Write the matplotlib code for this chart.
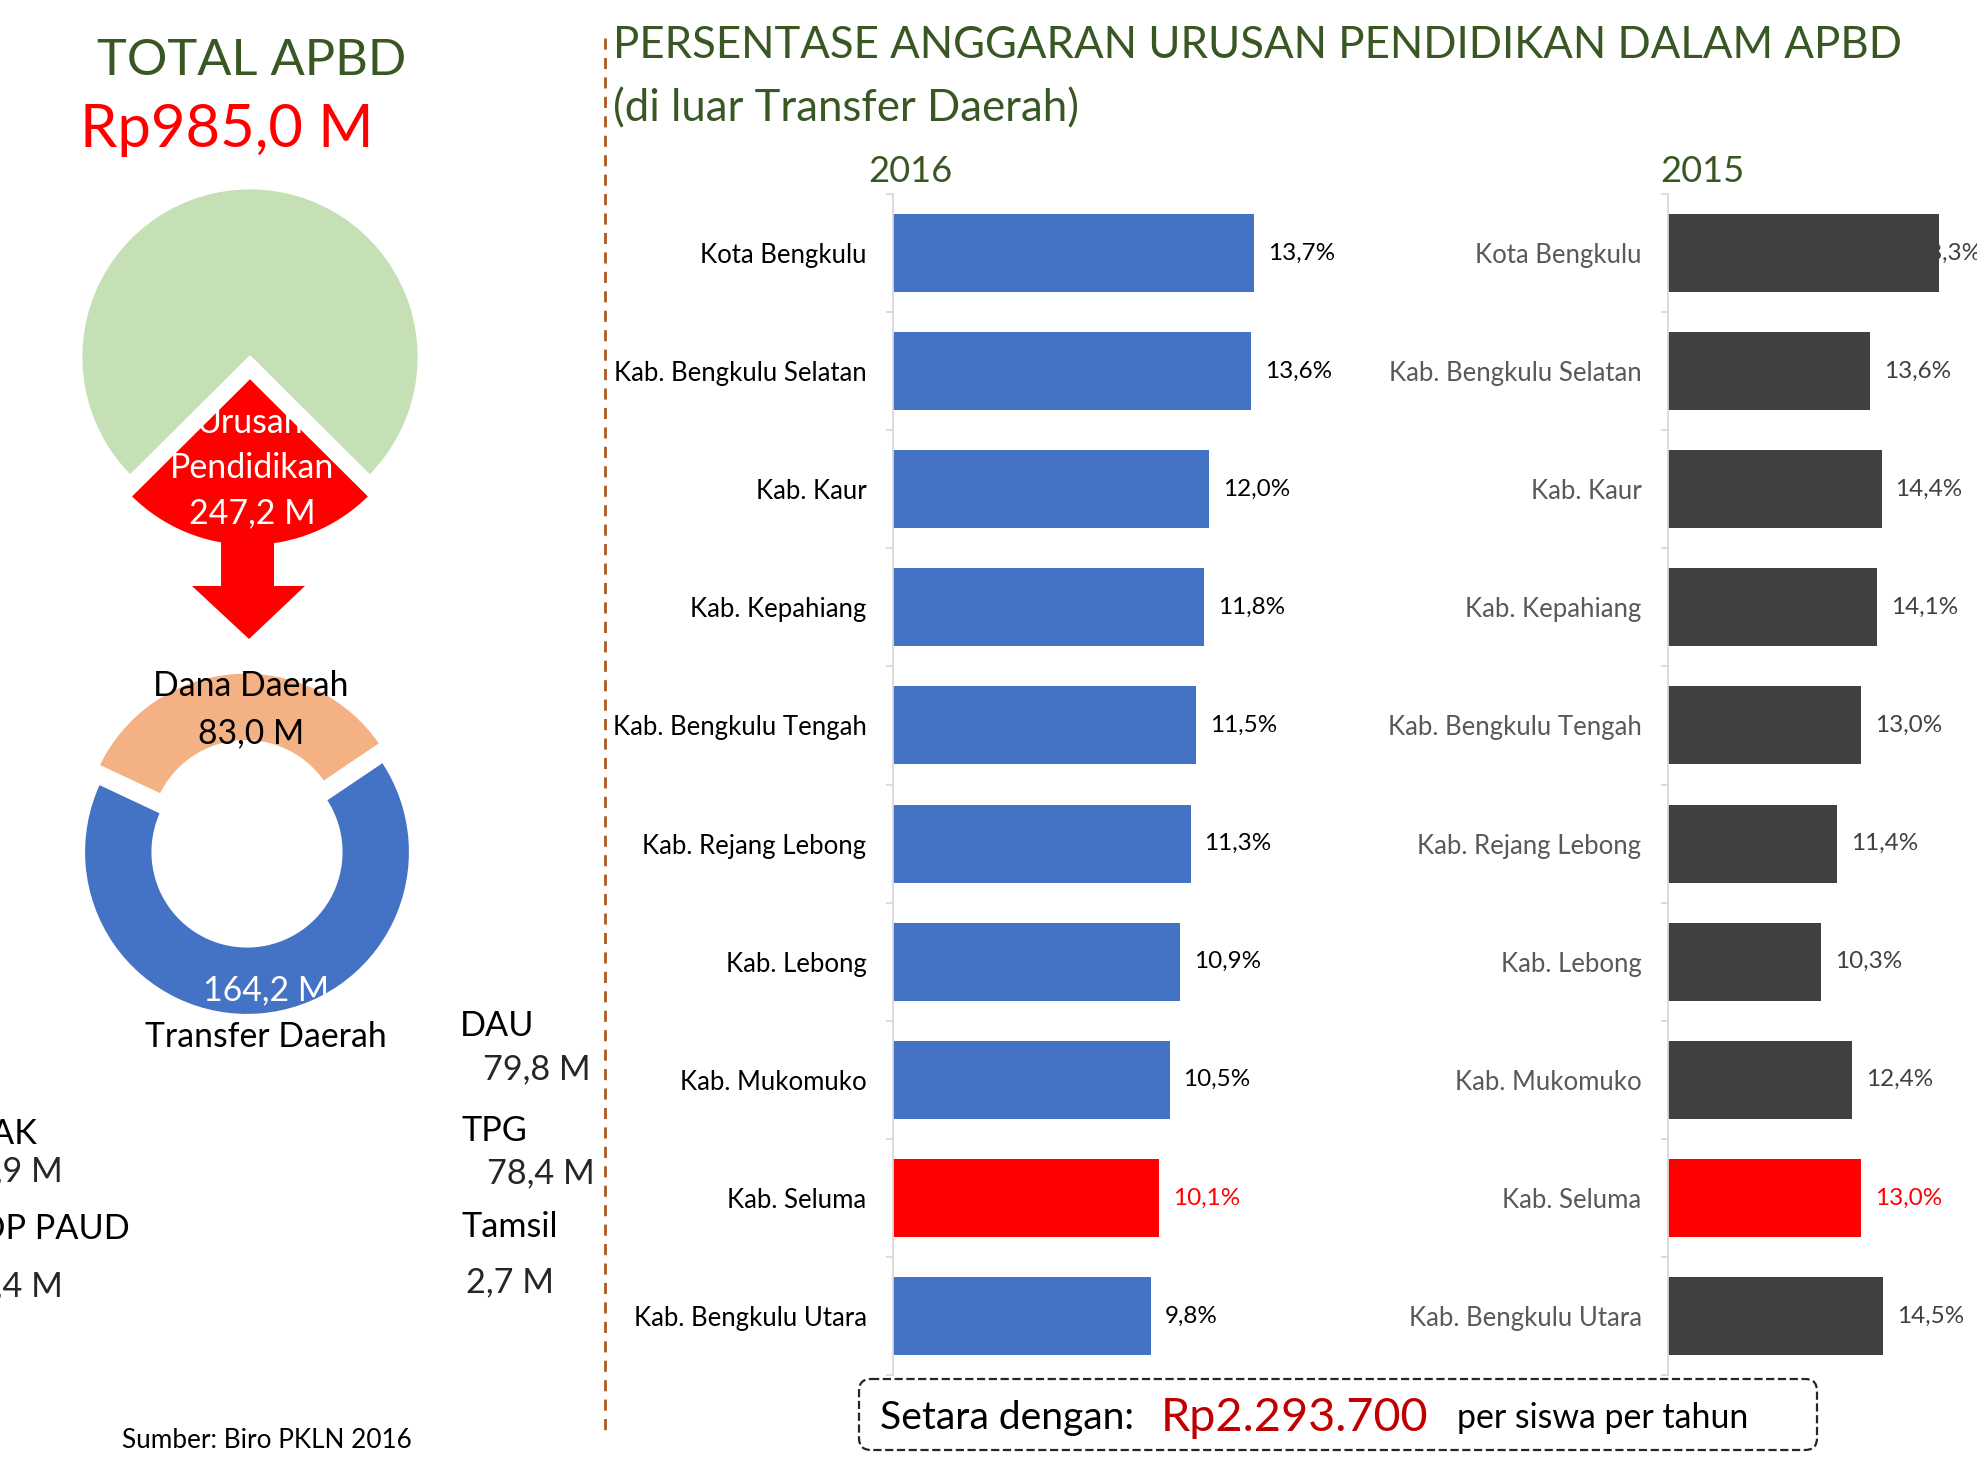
import numpy as np
import matplotlib.pyplot as plt
from matplotlib.patches import Polygon, FancyBboxPatch

plt.rcParams['font.family'] = ['Lato', 'DejaVu Sans']

W, H = 1977, 1462

# ---- data ----
total_apbd = 985.0
urusan_pendidikan = 247.2
dana_daerah = 83.0
transfer_daerah = 164.2
transfer_names = ['DAU', 'TPG', 'Tamsil']
transfer_vals = [79.8, 78.4, 2.7]
dana_names = ['DAK', 'BOP PAUD']      # left part is cut off in the source
dana_vals = [3.9, 1.4]
per_siswa = 'Rp2.293.700'

regions = ['Kota Bengkulu', 'Kab. Bengkulu Selatan', 'Kab. Kaur', 'Kab. Kepahiang',
           'Kab. Bengkulu Tengah', 'Kab. Rejang Lebong', 'Kab. Lebong',
           'Kab. Mukomuko', 'Kab. Seluma', 'Kab. Bengkulu Utara']
pct_2016 = [13.7, 13.6, 12.0, 11.8, 11.5, 11.3, 10.9, 10.5, 10.1, 9.8]
pct_2015 = [18.3, 13.6, 14.4, 14.1, 13.0, 11.4, 10.3, 12.4, 13.0, 14.5]
highlight = 'Kab. Seluma'

GREEN_TXT = '#385723'
RED = '#FF0000'


def fmt(v):
    return f'{v:.1f}'.replace('.', ',')


fig = plt.figure(figsize=(W / 100, H / 100), dpi=100)
bg = fig.add_axes([0, 0, 1, 1])
bg.set_xlim(0, W)
bg.set_ylim(H, 0)
bg.axis('off')
bg.set_zorder(5)   # overlay: labels sit on top of the pies
renderer = fig.canvas.get_renderer()


def put(x, y, s, width=None, size=20, **kw):
    # text in pixel coords; if width given, scale font so text is that wide
    t = bg.text(x, y + 4, s, va='center', fontsize=size, **kw)
    if width:
        t.set_fontsize(size * width / t.get_window_extent(renderer).width)
    return t


def pie_axes(cx, cy, r):
    half = 1.3 * r
    ax = fig.add_axes([(cx - half) / W, 1 - (cy + half) / H, 2 * half / W, 2 * half / H])
    return ax


# ---- left: total APBD pie ----
put(252, 57, 'TOTAL APBD', width=309, color=GREEN_TXT, ha='center')
put(227, 126, 'Rp' + fmt(total_apbd) + ' M', width=294, color=RED, ha='center')

p = urusan_pendidikan / total_apbd
ax1 = pie_axes(250, 357, 169)
ax1.pie([total_apbd - urusan_pendidikan, urusan_pendidikan], colors=['#C5E0B4', RED],
        explode=[0, 0.12], startangle=-90 + 180 * p,
        wedgeprops=dict(edgecolor='white', linewidth=2))
ax1.set_xlim(-1.3, 1.3)
ax1.set_ylim(-1.3, 1.3)

bg.add_patch(Polygon([(221, 530), (274, 530), (274, 586), (305, 586), (249, 639),
                      (192, 586), (221, 586)], closed=True, color=RED, lw=0))

t = put(252, 464, 'Pendidikan', width=165, color='white', ha='center')
fs = t.get_fontsize()
put(250, 419, 'Urusan', size=fs, color='white', ha='center')
put(252, 509, fmt(urusan_pendidikan) + ' M', size=fs, color='white', ha='center')

# ---- left: donut split ----
ax2 = pie_axes(247, 852, 164)
ax2.pie([dana_daerah, transfer_daerah], colors=['#F4B183', '#4472C4'],
        explode=[0.1, 0], startangle=34,
        wedgeprops=dict(width=0.43, edgecolor='white', linewidth=3))
ax2.set_xlim(-1.3, 1.3)
ax2.set_ylim(-1.3, 1.3)

t = put(251, 682, 'Dana Daerah', width=195, color='black', ha='center')
fs = t.get_fontsize()
put(251, 729, fmt(dana_daerah) + ' M', size=fs, color='black', ha='center')
put(266, 986, fmt(transfer_daerah) + ' M', size=fs, color='white', ha='center')
put(266, 1033, 'Transfer Daerah', size=fs, color='black', ha='center')

t = put(483, 1065, fmt(transfer_vals[0]) + ' M', width=108, color='#262626')
fs = t.get_fontsize()
name_xy = [(460, 1022), (461, 1127), (461, 1223)]
val_xy = [None, (487, 1169), (466, 1278)]
for i, name in enumerate(transfer_names):
    put(*name_xy[i], name, size=fs, color='black')
    if i:
        put(*val_xy[i], fmt(transfer_vals[i]) + ' M', size=fs, color='#262626')

for i, name in enumerate(dana_names):
    put([38, 130][i], [1130, 1225][i], name, size=fs, color='black', ha='right')
    put(63, [1167, 1282][i], fmt(dana_vals[i]) + ' M', size=fs, color='#262626', ha='right')

put(267, 1436, 'Sumber: Biro PKLN 2016', width=289, color='black', ha='center')

bg.plot([605, 605], [38, 1436], color='#B0581E', lw=2, ls=(0, (4, 3)))

# ---- right: titles ----
t = put(613, 42, 'PERSENTASE ANGGARAN URUSAN PENDIDIKAN DALAM APBD', width=1286, color=GREEN_TXT)
put(613, 105, '(di luar Transfer Daerah)', size=t.get_fontsize(), color=GREEN_TXT)
t = put(910, 168, '2016', width=84, color=GREEN_TXT, ha='center')
put(1702, 168, '2015', size=t.get_fontsize(), color=GREEN_TXT, ha='center')


def bar_panel(left, right, xmax, vals, bar_color, label_color, value_color):
    ax = fig.add_axes([left / W, 1 - 1375 / H, (right - left) / W, (1375 - 194) / H])
    ax.set_facecolor('none')
    cols = [RED if r == highlight else bar_color for r in regions]
    ax.barh(regions, vals, height=0.66, color=cols, zorder=2)
    ax.set_ylim(len(regions) - 0.5, -0.5)
    ax.set_xlim(0, xmax)
    for s in ['top', 'right', 'bottom']:
        ax.spines[s].set_visible(False)
    ax.spines['left'].set_color('#D9D9D9')
    ax.spines['left'].set_linewidth(1.3)
    ax.set_xticks([])
    ax.set_yticks(np.arange(-0.5, len(regions)), minor=True)
    ax.tick_params(axis='y', which='major', length=0, pad=19, labelsize=18.5, labelcolor=label_color)
    ax.tick_params(axis='y', which='minor', length=5, width=1.3, color='#D9D9D9')
    px_per = (right - left) / xmax
    for i, v in enumerate(vals):
        c = RED if regions[i] == highlight else value_color
        if v * px_per + 80 > right - left:
            # label does not fit: Excel pushes it back under the bar end
            ax.annotate(fmt(v) + '%', (xmax, i), xytext=(3, 0), textcoords='offset points',
                        ha='right', va='center', fontsize=17.5, color=c, zorder=1,
                        annotation_clip=False)
        else:
            ax.annotate(fmt(v) + '%', (v, i), xytext=(10, 0), textcoords='offset points',
                        va='center', fontsize=17.5, color=c)
    return ax


bar_panel(893, 1367, 18, pct_2016, '#4472C4', 'black', 'black')
bar_panel(1668, 1977, 309 / 14.83, pct_2015, '#404040', '#595959', '#404040')

# ---- bottom box ----
bg.add_patch(FancyBboxPatch((859, 1379), 958, 71, boxstyle='round,pad=0,rounding_size=12',
                            facecolor='white', edgecolor='#262626', lw=1.6, ls='--'))
put(880, 1414, 'Setara dengan:', width=255, color='black')
put(1161, 1414, per_siswa, width=267, color='#C00000')
put(1457, 1414, 'per siswa per tahun', width=292, color='black')

fig.savefig('out.png', dpi=100)
